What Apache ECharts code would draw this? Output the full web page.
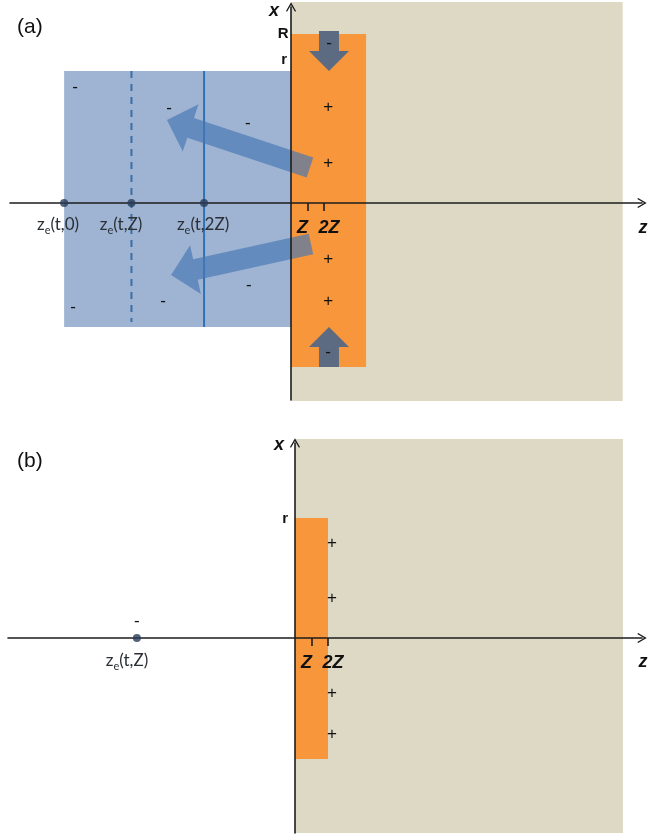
<!DOCTYPE html>
<html><head><meta charset="utf-8">
<script src="https://cdn.jsdelivr.net/npm/echarts@6/dist/echarts.min.js"></script>
<style>html,body{margin:0;padding:0;background:#fff}#c{width:665px;height:837px}</style>
</head><body><div id="c"></div>
<script>
// ---------- data (units: z in multiples of Z, x in arbitrary transverse units) ----------
// Panel (a)
const A_zRange = [-17.03, 21.27];
const A_xRange = [-19.7, 19.6];
const A_halfSpace = [0, 20.1, -19.8, 20.1];      // [z0, z1, x0, x1]
const A_plate = [0, 4.55, -16.4, 16.9];
const A_cloud = [-13.75, 0, -12.4, 13.2];
const A_zeValues = [-13.75, -9.67, -5.27];
const A_zeLabelPos = [[-14.12, -2.2], [-10.3, -2.2], [-5.33, -2.2]];
const A_zeLabels = ['0', 'Z', '2Z'];
const A_dashedLine = [[-9.67, -11.9, 13.2]];      // [z, x0, x1]
const A_solidLine = [[-5.27, -12.4, 13.2]];
const A_plus = [[2.25, 9.6], [2.25, 4.0], [2.25, -5.6], [2.25, -9.8]];
const A_minus = [[-13.09, 11.6], [-7.39, 9.5], [-2.61, 8.0], [-13.21, -10.4], [-7.76, -9.8], [-2.55, -8.2]];
const A_flowArrows = [[1.15, 3.55, -7.52, 8.3], [1.21, -4.1, -7.27, -7.2]];   // [tailZ, tailX, tipZ, tipX]
const A_inflowArrows = [[2.3, 17.2, 2.3, 13.2], [2.3, -16.4, 2.3, -12.4]];
const A_inflowMinus = [[2.3, 16.0], [2.25, -14.9]];
const A_radiusMarks = [[-0.48, 16.9, 'R'], [-0.42, 14.3, 'r']];
const A_axisNames = [[-1.03, 19.2, 'x'], [21.33, -2.5, 'z']];

// Panel (b)
const B_zRange = [-17.39, 21.03];
const B_xRange = [-19.5, 19.5];
const B_halfSpace = [0, 19.88, -19.5, 19.9];
const B_plate = [0, 2.0, -12.1, 12.0];
const B_zeValues = [-9.58];
const B_zeLabelPos = [[-10.18, -2.3]];
const B_zeLabels = ['Z'];
const B_plus = [[2.24, 9.5], [2.24, 4.0], [2.24, -5.5], [2.24, -9.6]];
const B_minus = [[-9.58, 1.7]];
const B_radiusMarks = [[-0.6, 11.9, 'r']];
const B_axisNames = [[-0.97, 19.3, 'x'], [21.09, -2.4, 'z']];

// shared
const tickValues = [1, 2];
const tickLabels = ['Z', '2Z'];
const panelLabels = ['(a)', '(b)'];

// ---------- helpers ----------
const AXIS_COLOR = '#1c1c1c';
const chevron = 'path://M5,0 L10,8.6 L9,9.4 L5,2.6 L1,9.4 L0,8.6 Z';

function rectSeries(grid, rect, color, z) {
  return {
    type: 'custom', xAxisIndex: grid, yAxisIndex: grid, z: z, silent: true, clip: false,
    data: [rect],
    renderItem: function (p, api) {
      const a = api.coord([api.value(0), api.value(3)]);
      const b = api.coord([api.value(1), api.value(2)]);
      return { type: 'rect', shape: { x: a[0], y: a[1], width: b[0] - a[0], height: b[1] - a[1] }, style: { fill: color } };
    }
  };
}
function vlineSeries(grid, lines, color, dash, z) {
  return {
    type: 'custom', xAxisIndex: grid, yAxisIndex: grid, z: z, silent: true, clip: false,
    data: lines,
    renderItem: function (p, api) {
      const a = api.coord([api.value(0), api.value(2)]);
      const b = api.coord([api.value(0), api.value(1)]);
      return { type: 'line', shape: { x1: a[0], y1: a[1], x2: b[0], y2: b[1] },
        style: { stroke: color, lineWidth: 2, lineDash: dash } };
    }
  };
}
function arrowPts(t, h, sw, hw, hl) {
  const dx = h[0] - t[0], dy = h[1] - t[1], L = Math.hypot(dx, dy);
  const ux = dx / L, uy = dy / L, px = -uy, py = ux;
  const bx = h[0] - ux * hl, by = h[1] - uy * hl, s = sw / 2, w = hw / 2;
  return [[t[0] + px * s, t[1] + py * s], [bx + px * s, by + py * s], [bx + px * w, by + py * w], h,
          [bx - px * w, by - py * w], [bx - px * s, by - py * s], [t[0] - px * s, t[1] - py * s]];
}
function arrowSeries(grid, arrows, color, sw, hw, hl, z) {
  return {
    type: 'custom', xAxisIndex: grid, yAxisIndex: grid, z: z, silent: true, clip: false,
    data: arrows,
    renderItem: function (p, api) {
      const t = api.coord([api.value(0), api.value(1)]);
      const h = api.coord([api.value(2), api.value(3)]);
      return { type: 'polygon', shape: { points: arrowPts(t, h, sw, hw, hl) }, style: { fill: color } };
    }
  };
}
function textSeries(grid, items, font, color, z, align) {
  return {
    type: 'custom', xAxisIndex: grid, yAxisIndex: grid, z: z, silent: true, clip: false,
    data: items,
    renderItem: function (p, api) {
      const c = api.coord([api.value(0), api.value(1)]);
      return { type: 'text', x: c[0], y: c[1],
        style: { text: items[p.dataIndex][2], font: font, fill: color, align: align || 'center', verticalAlign: 'middle' } };
    }
  };
}
function signSeries(grid, pts, sign, z) {
  return textSeries(grid, pts.map(function (q) { return [q[0], q[1], sign]; }), '17px "Liberation Sans", Arial', '#111', z);
}
// tick labels drawn at the tick values on the z axis, nudged apart as in the figure
function tickLabelSeries(grid, z) {
  const shifts = [-5, 5];
  return {
    type: 'custom', xAxisIndex: grid, yAxisIndex: grid, z: z, silent: true, clip: false,
    data: tickValues.map(function (v, i) { return [v, 0, tickLabels[i]]; }),
    renderItem: function (p, api) {
      const c = api.coord([api.value(0), api.value(1)]);
      return { type: 'text', x: c[0] + shifts[p.dataIndex], y: c[1] + 25,
        style: { text: tickLabels[p.dataIndex], font: 'italic bold 18px "Liberation Sans", Arial', fill: '#111', align: 'center', verticalAlign: 'middle' } };
    }
  };
}
function zeSeries(grid, pos, labels, z) {
  const items = pos.map(function (q, i) { return [q[0], q[1], labels[i]]; });
  return {
    type: 'custom', xAxisIndex: grid, yAxisIndex: grid, z: z, silent: true, clip: false,
    data: items,
    renderItem: function (p, api) {
      const c = api.coord([api.value(0), api.value(1)]);
      return { type: 'text', x: c[0], y: c[1],
        style: { text: '{m|z}{s|e}{m|(t,' + items[p.dataIndex][2] + ')}', align: 'center', verticalAlign: 'middle',
          rich: {
            m: { fontFamily: 'Lato', fontSize: 17, fill: '#2b2f36', lineHeight: 22, verticalAlign: 'middle' },
            s: { fontFamily: 'Lato', fontSize: 11, fill: '#2b2f36', lineHeight: 11, verticalAlign: 'bottom' }
          } } };
    }
  };
}
function dotSeries(grid, zs, z) {
  return { type: 'scatter', xAxisIndex: grid, yAxisIndex: grid, z: z, silent: true, symbolSize: 8,
    itemStyle: { color: '#283c5a' }, data: zs.map(function (v) { return [v, 0]; }) };
}
function xAxisDef(grid, range) {
  return { type: 'value', gridIndex: grid, min: range[0], max: range[1], z: 10,
    splitLine: { show: false },
    axisLine: { onZero: true, symbol: ['none', chevron], symbolSize: [10, 10], lineStyle: { color: AXIS_COLOR, width: 1.6 } },
    axisTick: { show: true, customValues: tickValues, length: 8, lineStyle: { color: AXIS_COLOR, width: 1.6 } },
    axisLabel: { show: false } };
}
function yAxisDef(grid, range) {
  return { type: 'value', gridIndex: grid, min: range[0], max: range[1], z: 10,
    splitLine: { show: false }, axisTick: { show: false }, axisLabel: { show: false },
    axisLine: { onZero: true, symbol: ['none', chevron], symbolSize: [10, 10], lineStyle: { color: AXIS_COLOR, width: 1.6 } } };
}

const nameFont = 'italic bold 18px "Liberation Sans", Arial';
const radFont = 'bold 15px "Liberation Sans", Arial';

const option = {
  backgroundColor: '#ffffff',
  animation: false,
  title: [
    { text: panelLabels[0], left: 12, top: 12, textStyle: { fontFamily: 'Liberation Sans', fontSize: 21, fontWeight: 'normal', color: '#111' } },
    { text: panelLabels[1], left: 12, top: 446, textStyle: { fontFamily: 'Liberation Sans', fontSize: 21, fontWeight: 'normal', color: '#111' } }
  ],
  grid: [
    { left: 10, top: 7, width: 632, height: 393, outerBoundsMode: 'none', containLabel: false },
    { left: 8, top: 443, width: 634, height: 390, outerBoundsMode: 'none', containLabel: false }
  ],
  xAxis: [xAxisDef(0, A_zRange), xAxisDef(1, B_zRange)],
  yAxis: [yAxisDef(0, A_xRange), yAxisDef(1, B_xRange)],
  series: [
    // panel (a)
    rectSeries(0, A_halfSpace, '#ddd9c4', 1),
    rectSeries(0, A_plate, '#f7963a', 2),
    rectSeries(0, A_cloud, '#9fb4d2', 3),
    vlineSeries(0, A_dashedLine, '#3b6ea8', [7, 6], 4),
    vlineSeries(0, A_solidLine, '#2e72b4', null, 4),
    signSeries(0, A_plus, '+', 5),
    signSeries(0, A_minus, '-', 5),
    zeSeries(0, A_zeLabelPos, A_zeLabels, 5),
    arrowSeries(0, A_flowArrows, 'rgba(72,120,180,0.68)', 21, 50, 25, 6),
    arrowSeries(0, A_inflowArrows, '#5c6b82', 20, 40, 20, 6),
    signSeries(0, A_inflowMinus, '-', 7),
    textSeries(0, A_radiusMarks, radFont, '#111', 12),
    textSeries(0, A_axisNames, nameFont, '#111', 12),
    tickLabelSeries(0, 12),
    dotSeries(0, A_zeValues, 12),
    // panel (b)
    rectSeries(1, B_halfSpace, '#ddd9c4', 1),
    rectSeries(1, B_plate, '#f7963a', 2),
    signSeries(1, B_plus, '+', 5),
    signSeries(1, B_minus, '-', 5),
    zeSeries(1, B_zeLabelPos, B_zeLabels, 5),
    textSeries(1, B_radiusMarks, radFont, '#111', 12),
    textSeries(1, B_axisNames, nameFont, '#111', 12),
    tickLabelSeries(1, 12),
    dotSeries(1, B_zeValues, 12)
  ]
};
const chart = echarts.init(document.getElementById('c'), null, { renderer: 'canvas' });
chart.setOption(option);
</script></body></html>
